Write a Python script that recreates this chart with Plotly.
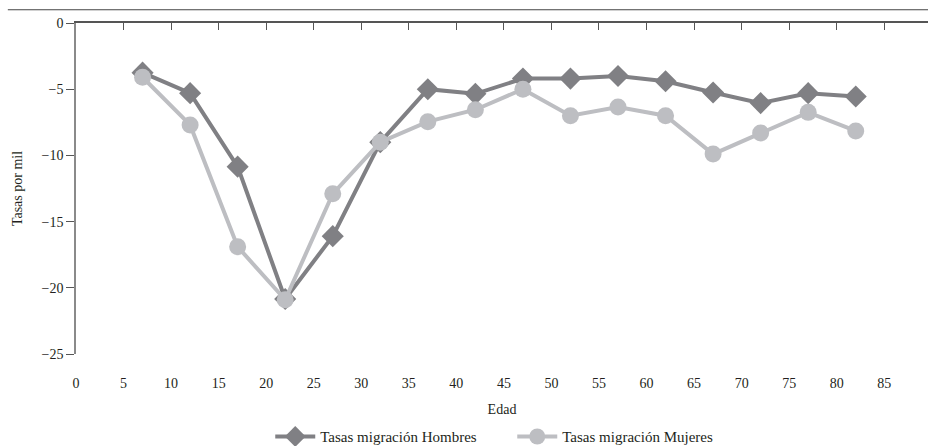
import plotly.graph_objects as go

edad = [7, 12, 17, 22, 27, 32, 37, 42, 47, 52, 57, 62, 67, 72, 77, 82]
hombres = [-3.75, -5.3, -10.85, -20.85, -16.1, -9.0, -5.0, -5.35, -4.2, -4.2, -4.0, -4.4, -5.25, -6.05, -5.3, -5.55]
mujeres = [-4.1, -7.7, -16.9, -20.9, -12.9, -9.0, -7.45, -6.55, -5.0, -7.0, -6.35, -7.0, -9.9, -8.3, -6.75, -8.15]
xticks = list(range(0, 90, 5))
yticks = [0, -5, -10, -15, -20, -25]

FONT = "Liberation Serif"
DARK = "#808084"
LIGHT = "#bdbec2"
TXT = "#231f20"

fig = go.Figure()
fig.add_trace(go.Scatter(x=edad, y=hombres, name="Tasas migración Hombres",
                         mode="lines+markers",
                         line=dict(color=DARK, width=4),
                         marker=dict(symbol="diamond", size=17, color=DARK)))
fig.add_trace(go.Scatter(x=edad, y=mujeres, name="Tasas migración Mujeres",
                         mode="lines+markers",
                         line=dict(color=LIGHT, width=4),
                         marker=dict(symbol="circle", size=17, color=LIGHT)))

xr = [0, 89.6]
fig.update_layout(
    width=928, height=446,
    margin=dict(l=76, r=0, t=23, b=92, autoexpand=False),
    plot_bgcolor="white", paper_bgcolor="white",
    font=dict(family=FONT, size=14, color=TXT),
    showlegend=True,
    legend=dict(orientation="h", x=0.228, xanchor="left", y=-0.25, yanchor="middle",
                font=dict(size=15, color=TXT), itemwidth=40, tracegroupgap=0,
                entrywidth=187, entrywidthmode="pixels"),
    xaxis=dict(range=xr, tickvals=xticks, ticktext=[str(t) for t in xticks],
               showline=False, showgrid=False, zeroline=False, ticks="",
               automargin=False, tickfont=dict(size=14, color=TXT),
               ticklabelstandoff=19, title=dict(text="Edad", standoff=14,
               font=dict(size=14, color=TXT))),
    xaxis2=dict(range=xr, tickvals=xticks, overlaying="x", side="top",
                showline=True, linecolor="#555555", linewidth=1.5,
                ticks="inside", ticklen=7, tickcolor="#555555", tickwidth=1,
                automargin=False,
                showticklabels=False, showgrid=False, zeroline=False),
    yaxis=dict(range=[-25, 0], tickvals=yticks, showline=True, linecolor="#8a8a8a",
               linewidth=1.5, ticks="outside", ticklen=8, tickcolor="#555555",
               showgrid=False, zeroline=False, automargin=False,
               tickfont=dict(size=14, color=TXT),
               title=dict(text="Tasas por mil", standoff=16, font=dict(size=14, color=TXT))),
)
# dummy invisible trace so the top axis is rendered
fig.add_trace(go.Scatter(x=[None], y=[None], xaxis="x2", showlegend=False, hoverinfo="skip"))
fig.add_shape(type="line", xref="paper", yref="paper", x0=-0.08, x1=1, y0=1.04, y1=1.04,
              line=dict(color="#444444", width=1))

fig.write_html("out.html", post_script="document.body.style.margin='0';",
               config={"displayModeBar": False})
